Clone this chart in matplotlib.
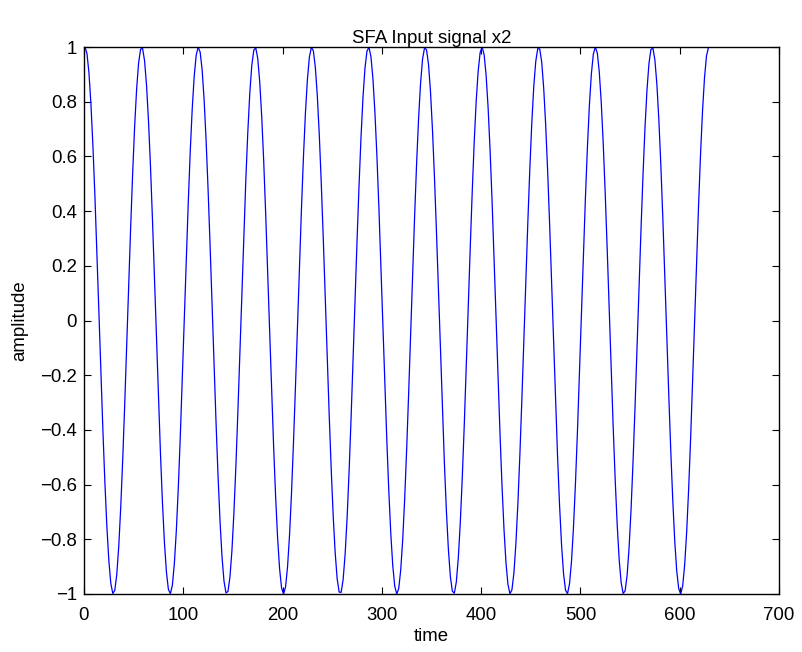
import numpy as np
import matplotlib
matplotlib.use("Agg")
import matplotlib.pyplot as plt

plt.rcParams['font.family'] = ['Liberation Sans', 'DejaVu Sans']

# sample index (every second sample of the 629-sample record)
time_idx = np.arange(1, 630, 2)

# input signal x2, in thousandths of the amplitude
x2_milli = [
    1000, 976, 905, 790, 637, 454, 248, 31, -188, -398,
    -589, -751, -877, -961, -998, -987, -929, -826, -683, -508,
    -307, -92, 127, 341, 538, 709, 846, 942, 992, 995,
    950, 859, 727, 560, 365, 153, -66, -282, -485, -664,
    -811, -919, -983, -999, -968, -889, -768, -610, -422, -214,
    4, 223, 430, 617, 774, 893, 970, 1000, 981, 916,
    806, 657, 477, 274, 57,
    -162, -374, -568, -733, -864, -953, -996, -991, -938, -841,
    -702, -531, -332, -118, 101, 316, 516, 690, 832, 933,
    988, 997, 958, 872, 745, 582, 389, 179, -40, -257,
    -462, -644, -795, -908, -978, -1000, -974, -901, -785, -631,
    -446, -240, -22, 197, 406, 596, 757, 881, 963,
    999, 986, 926, 821, 677, 500, 299, 83, -136, -349,
    -545, -715, -850, -945, -993, -994, -947, -855, -721, -552,
    -357, -145, 75, 291, 492, 670, 816, 923, 985, 999,
    965, 885, 762, 603, 414, 205, -13, -231, -438, -624,
    -779, -897, -972, -1000, -980, -912, -801, -651, -469, -265,
    -48, 171, 382, 574, 739, 868, 956, 997, 990, 936,
    836, 696, 523, 324, 110, -110, -324, -523, -696, -836,
    -936, -990, -997, -956, -868, -739, -574, -382, -171, 48,
    265, 469, 651, 801, 912, 980, 1000, 972, 897, 779,
    623, 438, 231, 13, -205, -414, -603, -762, -885, -965,
    -999, -985, -923, -816, -670, -492, -290, -75, 145, 357,
    552, 721, 855, 947, 994, 993, 945, 850, 715, 545,
    349, 136, -84, -299, -500, -677, -821, -926, -986, -999,
    -963, -881, -756, -595, -406, -197, 22, 240, 446, 630,
    785, 901, 974, 1000, 978, 908, 795, 644, 461, 257,
    39, -180, -390, -581, -745, -873, -958, -998, -989, -932,
    -831, -690, -515, -316, -101, 119, 332, 530, 703, 841,
    939, 991, 996, 953, 864, 733, 567, 373, 162, -57,
    -274, -477, -657, -806, -916, -981, -1000, -970, -893, -773,
    -616, -430, -222, -4, 214, 422, 610, 768, 889, 968,
    999,
]

x_ticks = [0, 100, 200, 300, 400, 500, 600, 700]
y_ticks = [-1, -0.8, -0.6, -0.4, -0.2, 0, 0.2, 0.4, 0.6, 0.8, 1]
y_tick_labels = ['\u22121', '\u22120.8', '\u22120.6', '\u22120.4', '\u22120.2',
                 '0', '0.2', '0.4', '0.6', '0.8', '1']

x2 = np.array(x2_milli) / 1000.0

fig = plt.figure(figsize=(8.03, 6.52), dpi=100)
ax = fig.add_axes([84/803, 1 - 594/652, 695/803, 547/652])
ax.plot(time_idx, x2, color='#0000ff', lw=0.9)
ax.set_xlim(0, 700)
ax.set_ylim(-1, 1)
ax.set_xticks(x_ticks)
ax.set_xticklabels([str(v) for v in x_ticks])
ax.set_yticks(y_ticks)
ax.set_yticklabels(y_tick_labels)
ax.tick_params(direction='in', length=5, width=0.8, top=True, right=True, labelsize=13.4)
ax.tick_params(axis='x', pad=9)
ax.tick_params(axis='y', pad=5)
for s in ax.spines.values():
    s.set_linewidth(1.0)
ax.set_title('SFA Input signal x2', fontsize=13.4, pad=3.0)
ax.set_xlabel('time', fontsize=13.4)
ax.set_ylabel('amplitude', fontsize=13.4)
ax.xaxis.set_label_coords(0.5, -0.062)
ax.yaxis.set_label_coords(-0.080, 0.5)
fig.savefig('out.png', dpi=100)
